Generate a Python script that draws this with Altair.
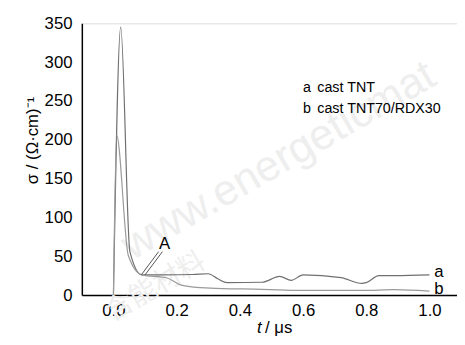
import altair as alt
import pandas as pd

# series a (cast TNT)
t_a = [0.0, 0.023, 0.052, 0.09, 0.16, 0.25, 0.30, 0.33, 0.36, 0.47, 0.526, 0.5625, 0.6, 0.72, 0.786, 0.80, 0.84, 0.89, 1.0]
v_a = [0, 345, 56, 26, 26, 26.5, 27.5, 21, 16, 16.5, 24, 19, 26, 22.5, 15, 16, 25, 25, 26]
# series b (cast TNT70/RDX30)
t_b = [0.0, 0.01, 0.047, 0.09, 0.17, 0.21, 0.276, 0.37, 0.41, 0.578, 0.786, 0.89, 1.0]
v_b = [0, 206, 51, 26, 22, 13.5, 9.5, 8, 8, 6, 6, 7, 5]

legend_keys = ["a", "b"]
legend_names = ["cast TNT", "cast TNT70/RDX30"]
x_ticks = [0.0, 0.2, 0.4, 0.6, 0.8, 1.0]
y_ticks = [0, 50, 100, 150, 200, 250, 300, 350]

FONT = "Liberation Sans"
FS = 17

df = pd.concat([
    pd.DataFrame({"t": t_a, "v": v_a, "s": "a", "o": range(len(t_a))}),
    pd.DataFrame({"t": t_b, "v": v_b, "s": "b", "o": range(len(t_b))}),
])

xs = alt.Scale(domain=[-0.1, 1.087], nice=False, zero=False)
ys = alt.Scale(domain=[0, 350], nice=False)
x_axis = alt.Axis(values=x_ticks, format=".1f", title=None, ticks=False,
                  grid=False, labelFontSize=FS, labelPadding=8, labelFont=FONT,
                  labelOverlap=False, labelColor="black", domainColor="black", domainWidth=1.5)
y_axis = alt.Axis(values=y_ticks, title=None, ticks=False, grid=False,
                  labelFontSize=FS, labelPadding=10, labelFont=FONT,
                  labelOverlap=False, labelColor="black", domainColor="black", domainWidth=1.5)

lines = alt.Chart(df).mark_line(strokeWidth=1.2, interpolate="monotone").encode(
    x=alt.X("t:Q", scale=xs, axis=x_axis),
    y=alt.Y("v:Q", scale=ys, axis=y_axis),
    color=alt.Color("s:N", scale=alt.Scale(domain=["a", "b"], range=["#707070", "#9a9a9a"]), legend=None),
    order="o:Q",
)

def txt(data, **kw):
    base = dict(font=FONT, fontSize=FS, align="center", baseline="middle", color="black")
    base.update(kw)
    return alt.Chart(data).mark_text(**base).encode(
        x=alt.X("t:Q", scale=xs, axis=x_axis), y=alt.Y("v:Q", scale=ys, axis=y_axis), text="lab:N")

end_labels = txt(pd.DataFrame({"t": [1.03, 1.03], "v": [30, 8], "lab": legend_keys}))
leg_keys = txt(pd.DataFrame({"t": [0.6, 0.6], "v": [267, 239], "lab": legend_keys}), align="left", fontSize=14.5)
leg_names = txt(pd.DataFrame({"t": [0.645, 0.645], "v": [267, 239], "lab": legend_names}), align="left", fontSize=14.5)
a_text = txt(pd.DataFrame({"t": [0.162], "v": [66], "lab": ["A"]}))

arr_df = pd.DataFrame({"t": [0.143, 0.155], "v": [56, 56], "t2": [0.088, 0.1], "v2": [26, 26]})
arrows = alt.Chart(arr_df).mark_rule(color="#555", strokeWidth=1).encode(
    x=alt.X("t:Q", scale=xs, axis=x_axis), y=alt.Y("v:Q", scale=ys, axis=y_axis), x2="t2:Q", y2="v2:Q")

one = pd.DataFrame({"k": [0]})
# axis titles
xt1 = alt.Chart(one).mark_text(font=FONT, fontSize=FS, fontStyle="italic", align="left",
                               baseline="middle", color="black").encode(
    x=alt.value(178), y=alt.value(310), text=alt.value("t"))
xt2 = alt.Chart(one).mark_text(font=FONT, fontSize=FS, align="left",
                               baseline="middle", color="black").encode(
    x=alt.value(186), y=alt.value(310), text=alt.value("/ μs"))
yt = alt.Chart(one).mark_text(font=FONT, fontSize=FS, angle=270, align="center",
                              baseline="middle", color="black").encode(
    x=alt.value(-50), y=alt.value(119), text=alt.value("σ / (Ω·cm)⁻¹"))

# watermark
wm = alt.Chart(one).mark_text(font="Liberation Sans", fontSize=44, angle=330, align="center",
                              baseline="middle", color="#eeeeee").encode(
    x=alt.value(200), y=alt.value(140), text=alt.value("www.energeticmat"))
wm2 = alt.Chart(one).mark_text(font="Noto Sans CJK SC", fontSize=28, angle=330, align="center",
                               baseline="middle", color="#eeeeee").encode(
    x=alt.value(75), y=alt.value(268), text=alt.value("含能材料"))

chart = alt.layer(wm, wm2, lines, end_labels, leg_keys, leg_names, arrows, a_text, xt1, xt2, yt).properties(
    width=381, height=276,
    autosize=alt.AutoSizeParams(type="none"),
    padding={"left": 75, "top": 13, "right": 0, "bottom": 40},
).configure_view(stroke=None).configure(background="white")

chart.save("out.html", embed_options={"renderer": "svg", "actions": False})
